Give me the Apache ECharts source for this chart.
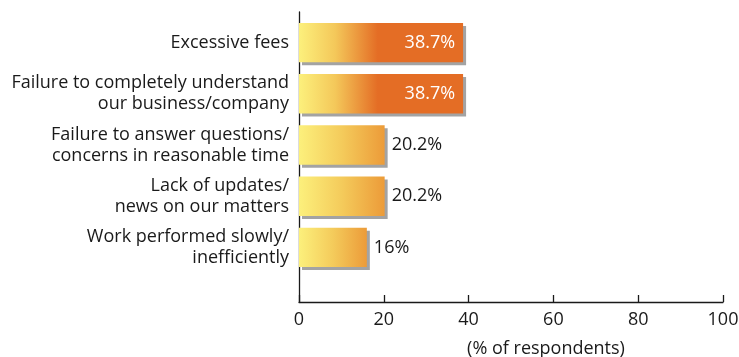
<!DOCTYPE html>
<html>
<head>
<meta charset="utf-8">
<script src="https://cdn.jsdelivr.net/npm/echarts@6/dist/echarts.min.js"></script>
<style>
  html, body { margin: 0; padding: 0; background: #ffffff; }
  #chart { width: 739px; height: 357px; }
</style>
</head>
<body>
<div id="chart"></div>
<script>
// Reasons for dissatisfaction with outside counsel
const categories = [
  'Excessive fees',
  'Failure to completely understand\nour business/company',
  'Failure to answer questions/\nconcerns in reasonable time',
  'Lack of updates/\nnews on our matters',
  'Work performed slowly/\ninefficiently'
];
const values = [38.7, 38.7, 20.2, 20.2, 16];
const valueLabels = ['38.7%', '38.7%', '20.2%', '20.2%', '16%'];
const xTicks = [0, 20, 40, 60, 80, 100];

const FONT = 'Open Sans';
const FS = 18;
const YELLOW = '#fcf07c';

function barFill(v) {
  if (v > 30) {
    return new echarts.graphic.LinearGradient(0, 0, 1, 0, [
      { offset: 0, color: YELLOW },
      { offset: 0.22, color: '#f4c85a' },
      { offset: 0.48, color: '#e46d25' },
      { offset: 1, color: '#e46d25' }
    ]);
  }
  return new echarts.graphic.LinearGradient(0, 0, 1, 0, [
    { offset: 0, color: YELLOW },
    { offset: 0.5, color: '#f4cb5b' },
    { offset: 1, color: '#ec9b39' }
  ]);
}

const barData = values.map((v, i) => {
  const inside = v > 30;
  return {
    value: v,
    itemStyle: { color: barFill(v) },
    label: {
      show: true,
      formatter: valueLabels[i],
      position: inside ? 'insideRight' : 'right',
      distance: inside ? 8 : 7,
      color: inside ? '#ffffff' : '#1a1a1a',
      fontFamily: FONT,
      fontSize: FS
    }
  };
});

const chart = echarts.init(document.getElementById('chart'), null, { renderer: 'canvas' });
chart.setOption({
  animation: false,
  backgroundColor: '#ffffff',
  grid: [
    { left: 299, right: 16, top: 17, height: 256, containLabel: false, outerBoundsMode: 'none' },
    { left: 299, right: 16, top: 12, height: 290, containLabel: false, outerBoundsMode: 'none' }
  ],
  xAxis: [
    { gridIndex: 0, type: 'value', min: 0, max: 100, show: false },
    {
      gridIndex: 1, type: 'value', min: 0, max: 100, interval: 20,
      axisLine: { show: true, lineStyle: { color: '#1a1a1a', width: 1.3 } },
      axisTick: { show: true, inside: true, length: 7, lineStyle: { color: '#1a1a1a', width: 1.3 } },
      splitLine: { show: false },
      axisLabel: {
        color: '#1a1a1a', fontFamily: FONT, fontSize: FS, margin: 9,
        formatter: v => (xTicks.includes(v) ? String(v) : '')
      },
      name: '(% of respondents)',
      nameLocation: 'middle',
      nameGap: 38,
      nameTextStyle: { color: '#1a1a1a', fontFamily: FONT, fontSize: FS, padding: [0, 0, 0, 70] }
    }
  ],
  yAxis: [
    {
      gridIndex: 0, type: 'category', data: categories, inverse: true,
      axisLine: { show: false }, axisTick: { show: false }, splitLine: { show: false },
      axisLabel: {
        color: '#1a1a1a', fontFamily: FONT, fontSize: FS, lineHeight: 21,
        align: 'right', margin: 10
      }
    },
    {
      gridIndex: 1, type: 'value', min: 0, max: 1,
      axisLine: { show: true, lineStyle: { color: '#1a1a1a', width: 1.3 } },
      axisTick: { show: false }, axisLabel: { show: false }, splitLine: { show: false }
    }
  ],
  series: [
    {
      type: 'bar',
      xAxisIndex: 0, yAxisIndex: 0,
      data: barData,
      barCategoryGap: '23%',
      itemStyle: {
        shadowColor: '#a3a3a3', shadowBlur: 0, shadowOffsetX: 3, shadowOffsetY: 3
      }
    }
  ]
});
</script>
</body>
</html>
